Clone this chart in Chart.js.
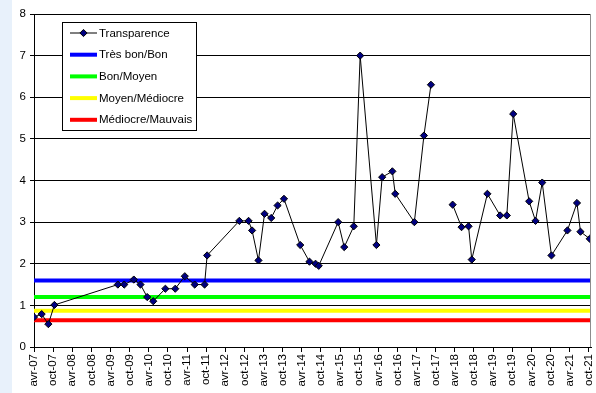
<!DOCTYPE html>
<html>
<head>
<meta charset="utf-8">
<script src="https://cdn.jsdelivr.net/npm/chart.js@4.4.1/dist/chart.umd.min.js"></script>
<style>
  html, body { margin: 0; padding: 0; background: #ffffff; }
  #wrap { width: 596px; height: 393px; position: relative; }
  canvas { display: block; }
</style>
</head>
<body>
<div id="wrap"><canvas id="chart" width="596" height="393"></canvas></div>
<script>
// Axis tick labels, one every six months starting April 2007
const tickLabels = [
  'avr-07','oct-07','avr-08','oct-08','avr-09','oct-09','avr-10','oct-10',
  'avr-11','oct-11','avr-12','oct-12','avr-13','oct-13','avr-14','oct-14',
  'avr-15','oct-15','avr-16','oct-16','avr-17','oct-17','avr-18','oct-18',
  'avr-19','oct-19','avr-20','oct-20','avr-21','oct-21'
];

// Sampling dates, in months after April 2007 (null = interruption of the series)
const sampleMonths = [
  0, 2.4, 4.5, 6.4, 26.3, 28.3, 31.3, 33.4, 35.5, 37.4,
  41.2, 44.3, 47.3, 50.4, 53.5, 54.3, 64.4, 67.3, 68.4, 70.4,
  72.3, 74.4, 76.4, 78.4, 83.5, 86.4, 88.3, 89.3, 95.4, 97.3,
  100.3, 102.3, 107.4, 109.2, 112.4, 113.3, 119.3, 122.3, 124.5, 128,
  131.3, 134.1, 136.3, 137.3, 142.2, 146.2, 148.3, 150.3, 155.3, 157.3,
  159.4, 162.3, 167.3, 170.3, 171.4, 174.3
];

// Transparence (m)
const transparence = [
  0.72, 0.79, 0.55, 1.01, 1.5, 1.5, 1.62, 1.5, 1.2, 1.1,
  1.4, 1.4, 1.7, 1.5, 1.5, 2.2, 3.03, 3.03, 2.8, 2.08,
  3.2, 3.1, 3.4, 3.56, 2.45, 2.05, 2.0, 1.95, 3.0, 2.4,
  2.9, 7.0, 2.45, 4.08, 4.22, 3.68, 3.0, 5.08, 6.3, null,
  3.42, 2.88, 2.9, 2.1, 3.68, 3.16, 3.16, 5.6, 3.5, 3.03,
  3.95, 2.2, 2.8, 3.46, 2.77, 2.6
];

// Quality class boundaries
const thresholdNames = ['Très bon/Bon', 'Bon/Moyen', 'Moyen/Médiocre', 'Médiocre/Mauvais'];
const thresholdValues = [1.6, 1.2, 0.87, 0.64];

const X_MIN = 0;
const X_MAX = 174.7;
const FONT = '"Liberation Sans", Arial, sans-serif';
const thresholdColors = ['#0000ff', '#00ff00', '#ffff00', '#ff0000'];

const seriesPoints = sampleMonths.map((m, i) => ({ x: m, y: transparence[i] }));

const datasets = [{
  label: 'Transparence',
  data: seriesPoints,
  borderColor: '#000000',
  borderWidth: 1,
  backgroundColor: '#000080',
  pointStyle: 'rectRot',
  pointRadius: 3.6,
  pointBorderWidth: 1,
  pointBorderColor: '#000000',
  pointBackgroundColor: '#000080',
  tension: 0,
  spanGaps: false
}];
thresholdNames.forEach((name, i) => {
  datasets.push({
    label: name,
    data: [{ x: X_MIN, y: thresholdValues[i] }, { x: X_MAX, y: thresholdValues[i] }],
    borderColor: thresholdColors[i],
    backgroundColor: thresholdColors[i],
    borderWidth: 4,
    pointRadius: 0,
    tension: 0
  });
});

// Page strip on the left and plain white canvas
const backdrop = {
  id: 'backdrop',
  beforeDraw(chart) {
    const ctx = chart.ctx;
    ctx.save();
    ctx.fillStyle = '#ffffff';
    ctx.fillRect(0, 0, chart.width, chart.height);
    ctx.fillStyle = '#e8f1fb';
    ctx.fillRect(0, 0, 12, chart.height);
    ctx.restore();
  }
};

// Right frame of the plot and the boxed legend
const frameAndLegend = {
  id: 'frameAndLegend',
  afterDraw(chart) {
    const ctx = chart.ctx;
    const a = chart.chartArea;
    ctx.save();
    ctx.strokeStyle = '#8c8c8c';
    ctx.lineWidth = 1;
    ctx.beginPath();
    ctx.moveTo(Math.round(a.right) - 0.5, a.top);
    ctx.lineTo(Math.round(a.right) - 0.5, a.bottom);
    ctx.stroke();

    const bx = 62.5, by = 22.5, bw = 134, bh = 108;
    ctx.fillStyle = '#ffffff';
    ctx.fillRect(bx, by, bw, bh);
    ctx.strokeStyle = '#000000';
    ctx.strokeRect(bx, by, bw, bh);

    ctx.font = '11.5px ' + FONT;
    ctx.textBaseline = 'middle';
    ctx.textAlign = 'left';
    chart.data.datasets.forEach((ds, i) => {
      const y = 33 + i * 21.7;
      ctx.strokeStyle = ds.borderColor;
      ctx.lineWidth = ds.borderWidth;
      ctx.beginPath();
      ctx.moveTo(70, y);
      ctx.lineTo(97, y);
      ctx.stroke();
      if (ds.pointRadius > 0) {
        const r = ds.pointRadius;
        ctx.beginPath();
        ctx.moveTo(83.5, y - r);
        ctx.lineTo(83.5 + r, y);
        ctx.lineTo(83.5, y + r);
        ctx.lineTo(83.5 - r, y);
        ctx.closePath();
        ctx.fillStyle = ds.pointBackgroundColor;
        ctx.fill();
        ctx.lineWidth = 1;
        ctx.strokeStyle = '#000000';
        ctx.stroke();
      }
      ctx.fillStyle = '#000000';
      ctx.fillText(ds.label, 99, y + 0.5);
    });
    ctx.restore();
  }
};

new Chart(document.getElementById('chart'), {
  type: 'line',
  data: { datasets },
  options: {
    responsive: false,
    animation: false,
    devicePixelRatio: 1,
    layout: { padding: { top: 14, right: 2, left: 0, bottom: 0 } },
    plugins: { legend: { display: false }, tooltip: { enabled: false } },
    scales: {
      x: {
        type: 'linear',
        min: X_MIN,
        max: X_MAX,
        afterBuildTicks(scale) {
          scale.ticks = tickLabels.map((_, i) => ({ value: i * 6 }));
        },
        afterFit(scale) {
          scale.height = 46;
          scale.paddingLeft = 0;
          scale.paddingRight = 0;
        },
        ticks: {
          autoSkip: false,
          minRotation: 90,
          maxRotation: 90,
          padding: 2,
          color: '#000000',
          font: { family: FONT, size: 11.5 },
          callback: (v) => tickLabels[Math.round(v / 6)]
        },
        grid: {
          drawOnChartArea: false,
          drawTicks: true,
          tickLength: 5,
          tickColor: '#000000',
          color: '#000000'
        },
        border: { display: true, color: '#000000', width: 1 }
      },
      y: {
        min: 0,
        max: 8,
        afterFit(scale) {
          scale.width = 34;
          scale.paddingTop = 0;
          scale.paddingBottom = 0;
        },
        ticks: {
          stepSize: 1,
          padding: 4,
          color: '#000000',
          font: { family: FONT, size: 11.5 }
        },
        grid: {
          color: '#000000',
          lineWidth: 1,
          tickLength: 4,
          tickColor: '#000000'
        },
        border: { display: true, color: '#000000', width: 1 }
      }
    }
  },
  plugins: [backdrop, frameAndLegend]
});
</script>
</body>
</html>
